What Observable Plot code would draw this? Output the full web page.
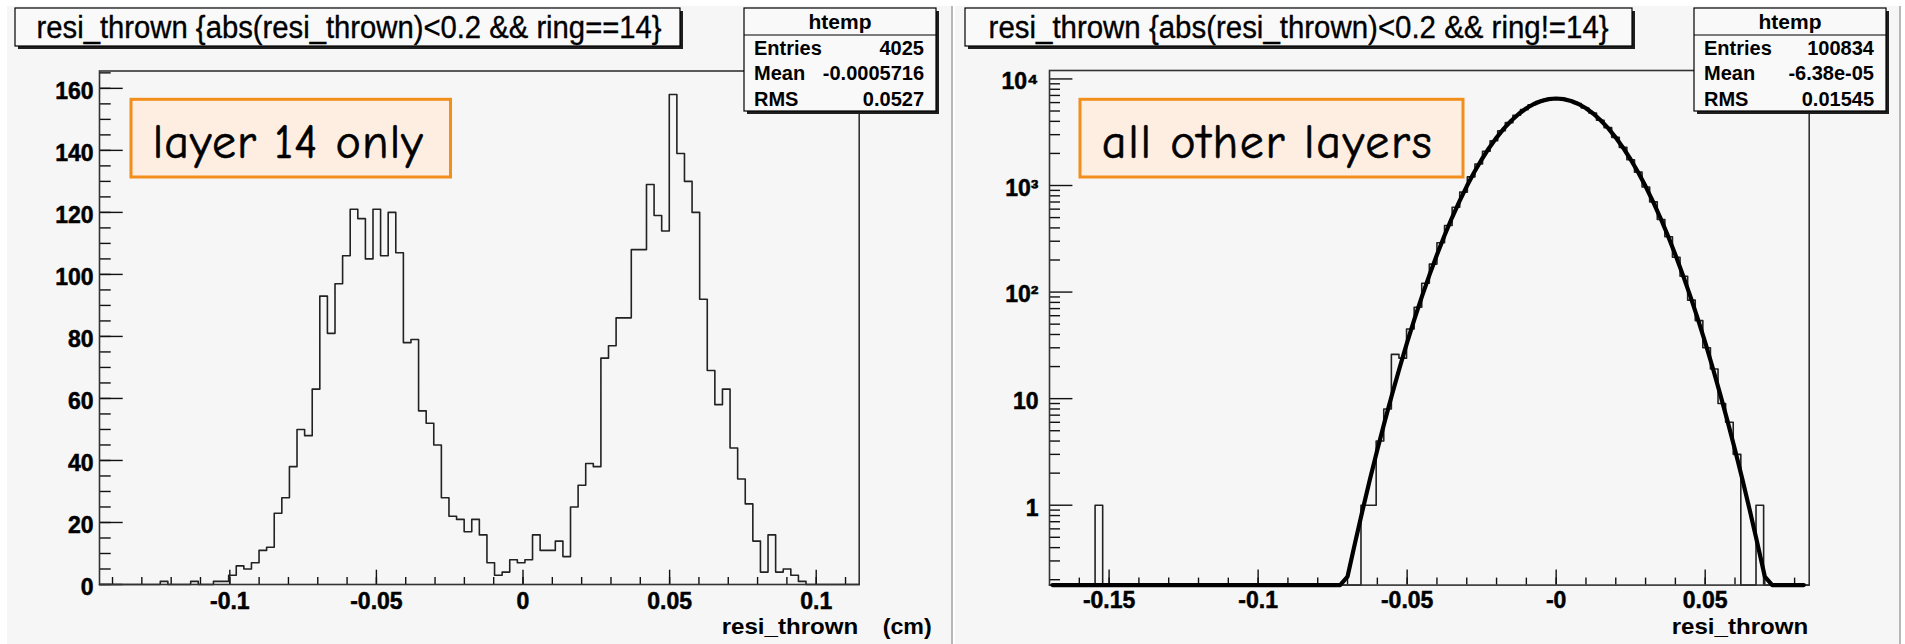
<!DOCTYPE html>
<html><head><meta charset="utf-8">
<script src="https://cdn.jsdelivr.net/npm/d3@7"></script>
<script src="https://cdn.jsdelivr.net/npm/@observablehq/plot@0.6"></script>
<style>
html,body{margin:0;padding:0;background:#fff;width:1905px;height:644px;overflow:hidden;}
.panel{position:absolute;top:6px;height:638px;width:944px;background:#f6f6f6;}
.sep{position:absolute;top:6px;height:638px;width:2px;background:#b8b8b8;}
#left{left:7px}
#right{left:955px}
#overlay{position:absolute;left:0;top:0;}
.panel svg text{font-size:23px;paint-order:stroke;stroke:#000;stroke-width:0.5px;}
</style></head><body>
<div class="panel" id="left"></div>
<div class="sep" style="left:951px"></div>
<div class="panel" id="right"></div>
<div class="sep" style="left:1899px"></div>
<svg id="overlay" width="1905" height="644" xmlns="http://www.w3.org/2000/svg"></svg>
<script>
// ---------------- data ----------------
// left histogram: ring==14, 100 bins over the range below
const leftRange = [-0.14444, 0.11466];
const leftCounts = [
  0,0,0,0,0,0,0,0,1,0,
  0,0,1,0,0,1,1,3,6,5,
  7,11,12,23,28,38,50,48,63,93,
  81,97,106,121,118,105,121,106,120,107,
  78,79,56,52,45,28,22,21,17,21,
  16,7,3,4,8,7,8,16,11,11,
  14,9,25,32,39,38,73,77,86,86,
  108,108,129,119,114,158,139,130,120,92,
  69,58,63,44,34,26,14,4,16,4,
  5,3,1,0,0,0,0,0,0,0
];
const leftYMax = 165.6;
const leftMajorX = [-0.1, -0.05, 0, 0.05, 0.1];
const leftMajorY = [0, 20, 40, 60, 80, 100, 120, 140, 160];

// right histogram: ring!=14, 100 bins, log scale
const rightRange = [-0.1700, 0.0849];
const rightCounts = [
  0,0,0,0,0,0,1,0,0,0,
  0,0,0,0,0,0,0,0,0,0,
  0,0,0,0,0,0,0,0,0,0,
  0,0,0,0,0,0,0,0,0,0,
  0,1,1,4,8,26,24,45,72,121,
  183,290,421,625,866,1205,1590,2094,2630,3268,
  3890,4570,5150,5730,6120,6450,6530,6500,6240,5890,
  5340,4790,4100,3490,2830,2280,1745,1335,968,702,
  480,331,212,141,84,54,30,19,9,6,
  3,0,0,1,0,0,0,0,0,0
];
const rightYDomain = [0.178, 12000];
const rightMajorX = [-0.15, -0.1, -0.05, 0, 0.05];
const rightMajorY = [1, 10, 100, 1000, 10000];
const rightMajorYLabels = ["1", "10", "10\u00B2", "10\u00B3", "10\u2074"];

// fitted curve (thick black line)
const fitX = [-0.169, -0.0725, -0.07, -0.0675, -0.065, -0.0625, -0.06, -0.0575, -0.055, -0.0525,
  -0.05, -0.0475, -0.045, -0.0425, -0.04, -0.0375, -0.035, -0.0325, -0.03, -0.0275,
  -0.025, -0.0225, -0.02, -0.0175, -0.015, -0.0125, -0.01, -0.0075, -0.005, -0.0025,
  0, 0.0025, 0.005, 0.0075, 0.01, 0.0125, 0.015, 0.0175, 0.02, 0.0225,
  0.025, 0.0275, 0.03, 0.0325, 0.035, 0.0375, 0.04, 0.0425, 0.045, 0.0475,
  0.05, 0.0525, 0.055, 0.0575, 0.06, 0.0625, 0.065, 0.0675, 0.07, 0.0725, 0.0831];
const fitY = [0.1, 0.101, 0.214, 0.441, 0.887, 1.74, 3.31, 6.15, 11.1, 19.6,
  33.7, 56.3, 91.7, 145, 224, 338, 495, 707, 983, 1330,
  1754, 2253, 2818, 3434, 4075, 4711, 5305, 5817, 6214, 6464,
  6550, 6464, 6214, 5817, 5305, 4711, 4075, 3434, 2818, 2253,
  1754, 1330, 983, 707, 495, 338, 224, 145, 91.7, 56.3,
  33.7, 19.6, 11.1, 6.15, 3.31, 1.74, 0.887, 0.441, 0.214, 0.101, 0.1];

const titles = ["resi_thrown {abs(resi_thrown)<0.2 && ring==14}",
                "resi_thrown {abs(resi_thrown)<0.2 && ring!=14}"];
const statLabels = ["Entries", "Mean", "RMS"];
const statValues = [["4025", "-0.0005716", "0.0527"], ["100834", "-6.38e-05", "0.01545"]];
const notes = ["layer 14 only", "all other layers"];

// ---------------- helpers ----------------
function steps(range, counts, floor) {
  const [a, b] = range, n = counts.length, w = (b - a) / n;
  const pts = [];
  counts.forEach((c, i) => {
    const v = floor != null ? Math.max(c, floor) : c;
    pts.push({x: a + i * w, y: v}, {x: a + (i + 1) * w, y: v});
  });
  return pts;
}
const font = "'Liberation Sans', Arial, Helvetica, sans-serif";
const styleBase = {background: "transparent", fontFamily: font, fontSize: "23px", fontWeight: "bold", color: "#000", overflow: "visible"};
const axisText = {fontSize: 23, fontWeight: "bold", fontFamily: font, fill: "#000"};

// ---------------- left plot ----------------
{
  const W = 944, Hh = 638, mL = 92, mR = 92.3, mT = 64.5, mB = 60;
  const iw = W - mL - mR, ih = Hh - mT - mB;
  const minorX = d3.range(-0.14, 0.115, 0.01).map(v => +v.toFixed(3));
  const minorY = d3.range(0, 166, 5);
  const plot = Plot.plot({
    width: W, height: Hh, marginLeft: mL, marginRight: mR, marginTop: mT, marginBottom: mB,
    style: styleBase,
    x: {domain: leftRange},
    y: {domain: [0, leftYMax]},
    marks: [
      Plot.tickX(minorX, {x: d => d, stroke: "#111", strokeWidth: 1.4, insetTop: ih - 7}),
      Plot.tickX(leftMajorX, {x: d => d, stroke: "#111", strokeWidth: 1.4, insetTop: ih - 14.3}),
      Plot.tickY(minorY, {y: d => d, stroke: "#111", strokeWidth: 1.4, insetRight: iw - 11.7}),
      Plot.tickY(leftMajorY, {y: d => d, stroke: "#111", strokeWidth: 1.4, insetRight: iw - 23.7}),
      Plot.line(steps(leftRange, leftCounts), {x: "x", y: "y", stroke: "#222", strokeWidth: 1.6}),
      Plot.frame({stroke: "#333", strokeWidth: 1.6}),
      Plot.axisX(leftMajorX, {...axisText, tickSize: 0, tickPadding: 8, label: null, tickFormat: d => String(d)}),
      Plot.axisY(leftMajorY, {...axisText, tickSize: 0, tickPadding: 6, dy: 3, label: null, tickFormat: d => String(d)})
    ]
  });
  document.getElementById("left").appendChild(plot);
}

// ---------------- right plot ----------------
{
  const W = 944, Hh = 638, mL = 94, mR = 90.3, mT = 64, mB = 59.4;
  const iw = W - mL - mR, ih = Hh - mT - mB;
  const minorX = d3.range(-0.16, 0.085, 0.01).map(v => +v.toFixed(3));
  const minorY = [];
  [0.1, 1, 10, 100, 1000].forEach(dec => { for (let k = 2; k <= 9; k++) minorY.push(dec * k); });
  const plot = Plot.plot({
    width: W, height: Hh, marginLeft: mL, marginRight: mR, marginTop: mT, marginBottom: mB,
    style: styleBase,
    x: {domain: rightRange},
    y: {type: "log", domain: rightYDomain, clamp: true},
    marks: [
      Plot.tickX(minorX, {x: d => d, stroke: "#111", strokeWidth: 1.4, insetTop: ih - 7}),
      Plot.tickX(rightMajorX, {x: d => d, stroke: "#111", strokeWidth: 1.4, insetTop: ih - 15}),
      Plot.tickY(minorY.filter(v => v > rightYDomain[0]), {y: d => d, stroke: "#111", strokeWidth: 1.4, insetRight: iw - 11}),
      Plot.tickY(rightMajorY, {y: d => d, stroke: "#111", strokeWidth: 1.4, insetRight: iw - 23.4}),
      Plot.line(steps(rightRange, rightCounts, 0.1), {x: "x", y: "y", stroke: "#222", strokeWidth: 1.6}),
      Plot.frame({stroke: "#333", strokeWidth: 1.6}),
      Plot.line(fitX.map((x, i) => ({x, y: fitY[i]})), {x: "x", y: "y", stroke: "#000", strokeWidth: 4.2, strokeLinejoin: "round"}),
      Plot.axisX(rightMajorX, {...axisText, tickSize: 0, tickPadding: 7, label: null, tickFormat: d => d === 0 ? "-0" : String(d)}),
      Plot.axisY(rightMajorY, {...axisText, tickSize: 0, tickPadding: 11, dy: 3, label: null,
        tickFormat: d => rightMajorYLabels[rightMajorY.indexOf(d)]})
    ]
  });
  document.getElementById("right").appendChild(plot);
}

// ---------------- annotation boxes ----------------
const NS = "http://www.w3.org/2000/svg";
const ov = document.getElementById("overlay");
function el(tag, attrs, text) {
  const e = document.createElementNS(NS, tag);
  for (const k in attrs) e.setAttribute(k, attrs[k]);
  if (text != null) e.textContent = text;
  ov.appendChild(e);
  return e;
}
function pave(x, y, w, h) {
  el("rect", {x: x + 3, y: y + 3, width: w, height: h, fill: "#1e1e1e"});
  el("rect", {x, y, width: w, height: h, fill: "#f9f9f9", stroke: "#000", "stroke-width": 1.2});
}
[0, 1].forEach(p => {
  const off = p * 950;
  // title
  pave(15 + off, 8, p ? 667 : 665, 38);
  el("text", {x: 36.6 + off + (p ? 2 : 0), y: 38, "font-family": font, "font-size": 31, fill: "#000",
    stroke: "#000", "stroke-width": 0.35,
    textLength: p ? 620 : 625, lengthAdjust: "spacingAndGlyphs"}, titles[p]);
  // stats box
  pave(744 + off, 8, 192, 103);
  el("line", {x1: 744 + off, x2: 936 + off, y1: 35, y2: 35, stroke: "#000", "stroke-width": 1.2});
  el("text", {x: 840 + off, y: 29, "text-anchor": "middle", "font-family": font, "font-size": 21, "font-weight": "bold", fill: "#000"}, "htemp");
  statLabels.forEach((s, i) => {
    const yb = 55 + i * 25.3;
    el("text", {x: 754 + off, y: yb, "font-family": font, "font-size": 20, "font-weight": "bold", fill: "#000"}, s);
    el("text", {x: 924 + off, y: yb, "text-anchor": "end", "font-family": font, "font-size": 20, "font-weight": "bold", fill: "#000"}, statValues[p][i]);
  });
  // orange note box
  const bx = p ? 1080 : 131, bw = p ? 383 : 319.5;
  el("rect", {x: bx, y: 99.3, width: bw, height: 77.7, fill: "#feeee2", stroke: "#f28e1c", "stroke-width": 3});
  el("text", {x: p ? 1101.7 : 152.7, y: 157.7, "font-family": "'Comic Sans MS', 'Comic Neue', Lato, sans-serif",
    "font-size": 48, fill: "#000", stroke: "#000", "stroke-width": 0.6, textLength: p ? 330 : 270, lengthAdjust: "spacing"}, notes[p]);
  // x axis title
  el("text", {x: 721.7 + off, y: 634, "font-family": font, "font-size": 22, "font-weight": "bold", fill: "#000",
    textLength: 136.6, lengthAdjust: "spacingAndGlyphs"}, "resi_thrown");
});
el("text", {x: 882.7, y: 634, "font-family": font, "font-size": 22, "font-weight": "bold", fill: "#000",
  textLength: 49, lengthAdjust: "spacingAndGlyphs"}, "(cm)");
</script>
</body></html>
